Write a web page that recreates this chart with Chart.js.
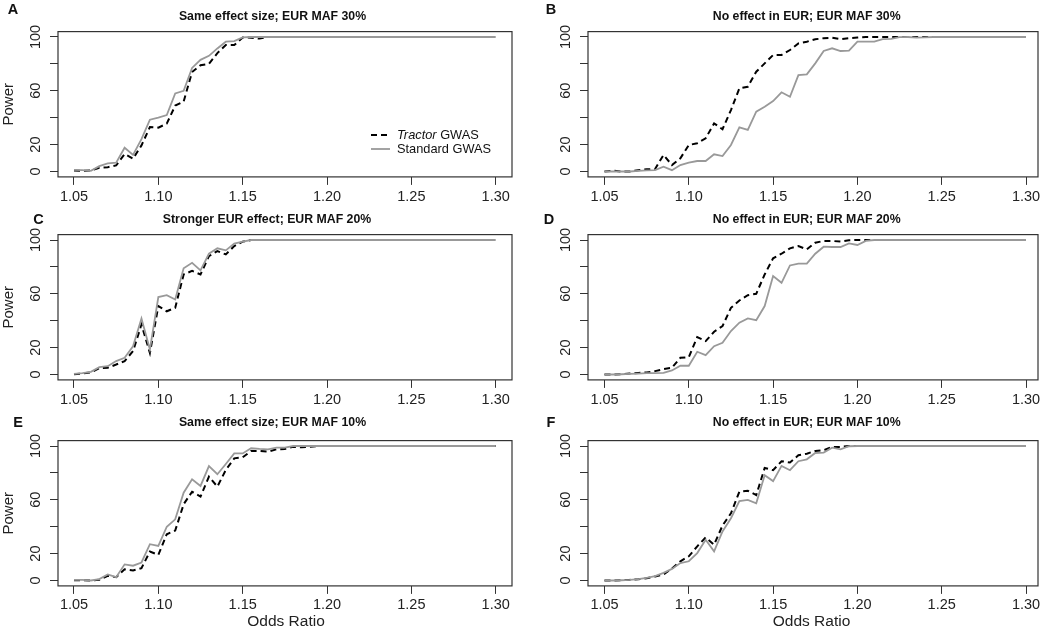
<!DOCTYPE html>
<html><head><meta charset="utf-8">
<script src="https://cdn.jsdelivr.net/npm/chart.js@4.4.1/dist/chart.umd.min.js"></script>
<style>
html,body{margin:0;padding:0;background:#fff;}
#wrap{position:relative;width:1047px;height:642px;overflow:hidden;}
#wrap canvas{position:absolute;left:0;top:0;}
</style></head><body><div id="wrap"></div>
<script>
// ---------------- DATA ----------------
const oddsRatios = [1.050,1.055,1.060,1.065,1.070,1.075,1.080,1.085,1.090,1.095,
  1.100,1.105,1.110,1.115,1.120,1.125,1.130,1.135,1.140,1.145,
  1.150,1.155,1.160,1.165,1.170,1.175,1.180,1.185,1.190,1.195,
  1.200,1.205,1.210,1.215,1.220,1.225,1.230,1.235,1.240,1.245,
  1.250,1.255,1.260,1.265,1.270,1.275,1.280,1.285,1.290,1.295,1.300];
const xTickValues = [1.05,1.10,1.15,1.20,1.25,1.30];
const xTickLabels = ['1.05','1.10','1.15','1.20','1.25','1.30'];
const yTickValues = [0,20,40,60,80,100];
const yTickLabels = ['0','20','','60','','100'];
const seriesNames = ['Tractor GWAS','Standard GWAS'];
const panelLetters = ['A','B','C','D','E','F'];
const panelTitles = ['Same effect size; EUR MAF 30%','No effect in EUR; EUR MAF 30%',
  'Stronger EUR effect; EUR MAF 20%','No effect in EUR; EUR MAF 20%',
  'Same effect size; EUR MAF 10%','No effect in EUR; EUR MAF 10%'];
const xAxisTitle = 'Odds Ratio';
const yAxisTitle = 'Power';

const tractorA = [0.7,0.5,0.7,2.7,3.2,4.5,13,9.5,19.4,33,32.6,35.6,49,52,74,79,80,88,94,94,
  99.7,99.5,98.8,100,100,100,100,100,100,100,100,100,100,100,100,100,100,100,100,100,
  100,100,100,100,100,100,100,100,100,100,100];
const standardA = [1.2,1,0.5,4,6,6.5,17.7,12.4,24,38.5,40,42,58,60,77,83,86,91.5,96.5,97,
  99.7,100,100,100,100,100,100,100,100,100,100,100,100,100,100,100,100,100,100,100,
  100,100,100,100,100,100,100,100,100,100,100];
const tractorB = [0,0.6,0,0,0.9,1.6,1.9,12.3,4.8,9.8,19.7,21,24.7,35.8,31.4,45.7,61.8,63,74.2,80.4,
  86.6,86.6,90.3,95.2,96.5,98.3,99.1,99.4,98.4,99.1,99.6,100,100,100,100,100,100,100,100,100,
  100,100,100,100,100,100,100,100,100,100,100];
const standardB = [0,0,0,0,0.4,0.9,1,3.6,1,4.8,6.6,7.8,7.8,12.8,11.5,19.7,32.8,30.9,44.5,48.2,
  52.4,58.9,55.6,71.7,72.2,80.4,89.6,91.6,89.6,89.8,96.5,96.5,96.5,98.4,98.6,99.9,100,99.5,99.7,100,
  100,100,100,100,100,100,100,100,100,100,100];
const tractorC = [0.2,0.7,1.5,4.7,5,7.4,10,17.4,37.2,16,50.9,47,49.6,74.4,77,74.4,88,91.8,89.3,95.5,
  98.8,100,100,100,100,100,100,100,100,100,100,100,100,100,100,100,100,100,100,100,
  100,100,100,100,100,100,100,100,100,100,100];
const standardC = [0.5,1,2,5.5,6.2,10,12.4,21,41.7,18.6,57.6,59,55.8,79,83,77.4,89.8,93.8,92.3,97.3,
  98.8,100,100,100,100,100,100,100,100,100,100,100,100,100,100,100,100,100,100,100,
  100,100,100,100,100,100,100,100,100,100,100];
const tractorD = [0,0,0.2,0.7,1.2,1.5,2.5,4,5,12.4,12.9,27.8,24.8,31.8,36,49.6,55,59,60,74.4,
  86.4,89.8,93.8,95.5,93,98,99.3,99.3,98.8,99.8,100,100,100,100,100,100,100,100,100,100,
  100,100,100,100,100,100,100,100,100,100,100];
const standardD = [0,0,0.2,0.5,0.7,1,1,1.2,3,6.5,6.5,16.9,14.4,21,23.6,32.3,38.5,41.7,40.4,50.9,
  73.2,68.2,81.1,82.4,82.4,89.8,95,94.8,94.8,97.5,96.3,99.3,100,100,100,100,100,100,100,100,
  100,100,100,100,100,100,100,100,100,100,100];
const tractorE = [0.2,0.2,0,0.5,3.5,2.5,8.4,7.4,9.2,21.5,19,34.4,37.1,56.7,66,62.4,77.2,69.8,82.2,90.8,
  91.6,96.3,96.3,95.8,97.5,97.8,99.5,99,99.5,100,100,100,100,100,100,100,100,100,100,100,
  100,100,100,100,100,100,100,100,100,100,100];
const standardE = [0.5,0.5,0,1,4.5,2.5,12,11,13.4,27,25.7,40,45.5,65.3,75.2,70.3,85.1,79,86.6,94.5,
  94.5,98.3,97.8,97.5,98.8,98.8,100,100,100,100,100,100,100,100,100,100,100,100,100,100,
  100,100,100,100,100,100,100,100,100,100,100];
const tractorF = [0,0,0.2,0.5,1,1.7,3,4.4,8.9,14.3,18,25.4,32,26.6,40.9,50,66,66.7,63.5,83.7,
  82,88.7,87.7,93.1,94.3,96.3,96.8,99.3,99.3,100,100,100,100,100,100,100,100,100,100,100,
  100,100,100,100,100,100,100,100,100,100,100];
const standardF = [0,0,0.2,0.5,1,2,3.2,5.7,8.6,13,14.3,20.4,30.3,21.7,36.5,46.3,59.1,59.9,57.4,78.3,
  73.9,85.2,82,88.7,90.1,94.8,95.1,98.8,97.5,99.8,100,100,100,100,100,100,100,100,100,100,
  100,100,100,100,100,100,100,100,100,100,100];

const tractorSeries = [tractorA,tractorB,tractorC,tractorD,tractorE,tractorF];
const standardSeries = [standardA,standardB,standardC,standardD,standardE,standardF];

// ---------------- LAYOUT / STYLE ----------------
const W = 1047, H = 642;
const FONT = '"Liberation Sans", Arial, Helvetica, sans-serif';
const cols = [
  {l:58, r:512, x105:74, x130:495.7, yLab:36, titleX:272.5, xTitleX:286},
  {l:588, r:1038, x105:604.5, x130:1026, yLab:565.5, titleX:806.7, xTitleX:811.5}
];
const rows = [
  {t:31.6, b:176.9, y0:171.5, y100:37, titleY:17, letterY:10, xLabY:197},
  {t:234.6, b:379.9, y0:374.5, y100:240, titleY:220, letterY:220, xLabY:400},
  {t:440.6, b:585.9, y0:580.5, y100:446, titleY:423, letterY:423, xLabY:605}
];
const letterX = [13, 551, 38.5, 549, 18, 551];
const titleXAdj = [0, 0, -5.5, 0, 0, 0];

const wrap = document.getElementById('wrap');

for (let p = 0; p < 6; p++) {
  const col = cols[p % 2], row = rows[Math.floor(p / 2)];
  const ppuX = (col.x130 - col.x105) / 0.25;
  const xmin = 1.05 - (col.x105 - col.l) / ppuX;
  const xmax = 1.30 + (col.r - col.x130) / ppuX;
  const ppuY = (row.y0 - row.y100) / 100;
  const ymin = -(row.b - row.y0) / ppuY;
  const ymax = 100 + (row.y100 - row.t) / ppuY;

  const cv = document.createElement('canvas');
  cv.width = W; cv.height = H;
  cv.style.width = W + 'px'; cv.style.height = H + 'px';
  wrap.appendChild(cv);

  const decor = {
    id: 'decor' + p,
    afterDraw(chart) {
      const ctx = chart.ctx, a = chart.chartArea;
      ctx.save();
      // box
      ctx.strokeStyle = '#333'; ctx.lineWidth = 1.2; ctx.setLineDash([]);
      ctx.strokeRect(a.left, a.top, a.right - a.left, a.bottom - a.top);
      ctx.fillStyle = '#222';
      ctx.font = '14.5px ' + FONT;
      ctx.textAlign = 'center'; ctx.textBaseline = 'middle';
      // x tick labels
      const xs = chart.scales.x;
      xTickValues.forEach((v, i) => {
        ctx.fillText(xTickLabels[i], xs.getPixelForValue(v), row.xLabY);
      });
      // rotated y tick labels
      const ys = chart.scales.y;
      yTickValues.forEach((v, i) => {
        if (!yTickLabels[i]) return;
        const py = ys.getPixelForValue(v);
        ctx.save(); ctx.translate(col.yLab, py); ctx.rotate(-Math.PI / 2);
        ctx.fillText(yTickLabels[i], 0, 0); ctx.restore();
      });
      // panel letter
      ctx.fillStyle = '#111';
      ctx.font = 'bold 14.5px ' + FONT;
      ctx.fillText(panelLetters[p], letterX[p], row.letterY);
      // title
      ctx.font = 'bold 12.3px ' + FONT;
      ctx.fillText(panelTitles[p], col.titleX + titleXAdj[p], row.titleY);
      // axis titles
      ctx.font = '15px ' + FONT;
      ctx.fillStyle = '#222';
      if (p % 2 === 0) {
        ctx.save(); ctx.translate(9, (row.t + row.b) / 2); ctx.rotate(-Math.PI / 2);
        ctx.fillText(yAxisTitle, 0, 0); ctx.restore();
      }
      if (p >= 4) {
        ctx.font = '15.5px ' + FONT;
        ctx.fillText(xAxisTitle, col.xTitleX, 622);
      }
      // legend in panel A
      if (p === 0) {
        ctx.lineWidth = 2; ctx.strokeStyle = '#000'; ctx.setLineDash([6, 4]);
        ctx.beginPath(); ctx.moveTo(371, 135); ctx.lineTo(390, 135); ctx.stroke();
        ctx.setLineDash([]); ctx.strokeStyle = '#999'; ctx.lineWidth = 1.8;
        ctx.beginPath(); ctx.moveTo(371, 149); ctx.lineTo(390, 149); ctx.stroke();
        ctx.textAlign = 'left'; ctx.fillStyle = '#111';
        const parts = seriesNames[0].split(' ');
        ctx.font = 'italic 12.8px ' + FONT;
        ctx.fillText(parts[0], 397, 135);
        const w0 = ctx.measureText(parts[0] + ' ').width;
        ctx.font = '12.8px ' + FONT;
        ctx.fillText(parts.slice(1).join(' '), 397 + w0, 135);
        ctx.fillText(seriesNames[1], 397, 149);
      }
      ctx.restore();
    }
  };

  new Chart(cv, {
    type: 'line',
    data: {
      datasets: [
        {label: seriesNames[0], data: oddsRatios.map((x, i) => ({x, y: tractorSeries[p][i]})),
         borderColor: '#000', borderWidth: 2, borderDash: [6, 4], pointRadius: 0, tension: 0, fill: false, order: 1},
        {label: seriesNames[1], data: oddsRatios.map((x, i) => ({x, y: standardSeries[p][i]})),
         borderColor: '#999', borderWidth: 1.8, pointRadius: 0, tension: 0, fill: false, order: 0}
      ]
    },
    options: {
      responsive: false, animation: false, devicePixelRatio: 1,
      layout: {padding: {left: col.l, right: W - col.r, top: row.t, bottom: H - row.b}},
      plugins: {legend: {display: false}, tooltip: {enabled: false}, title: {display: false}},
      scales: {
        x: {
          type: 'linear', min: xmin, max: xmax,
          afterBuildTicks: s => { s.ticks = xTickValues.map(v => ({value: v})); },
          afterFit: s => { s.height = 0; },
          grid: {drawOnChartArea: false, drawTicks: true, tickLength: 8, color: '#333', lineWidth: 1},
          border: {display: false},
          ticks: {display: false}
        },
        y: {
          type: 'linear', min: ymin, max: ymax,
          afterBuildTicks: s => { s.ticks = yTickValues.map(v => ({value: v})); },
          afterFit: s => { s.width = 0; },
          grid: {drawOnChartArea: false, drawTicks: true, tickLength: 8, color: '#333', lineWidth: 1},
          border: {display: false},
          ticks: {display: false}
        }
      }
    },
    plugins: [decor]
  });
}
</script></body></html>
